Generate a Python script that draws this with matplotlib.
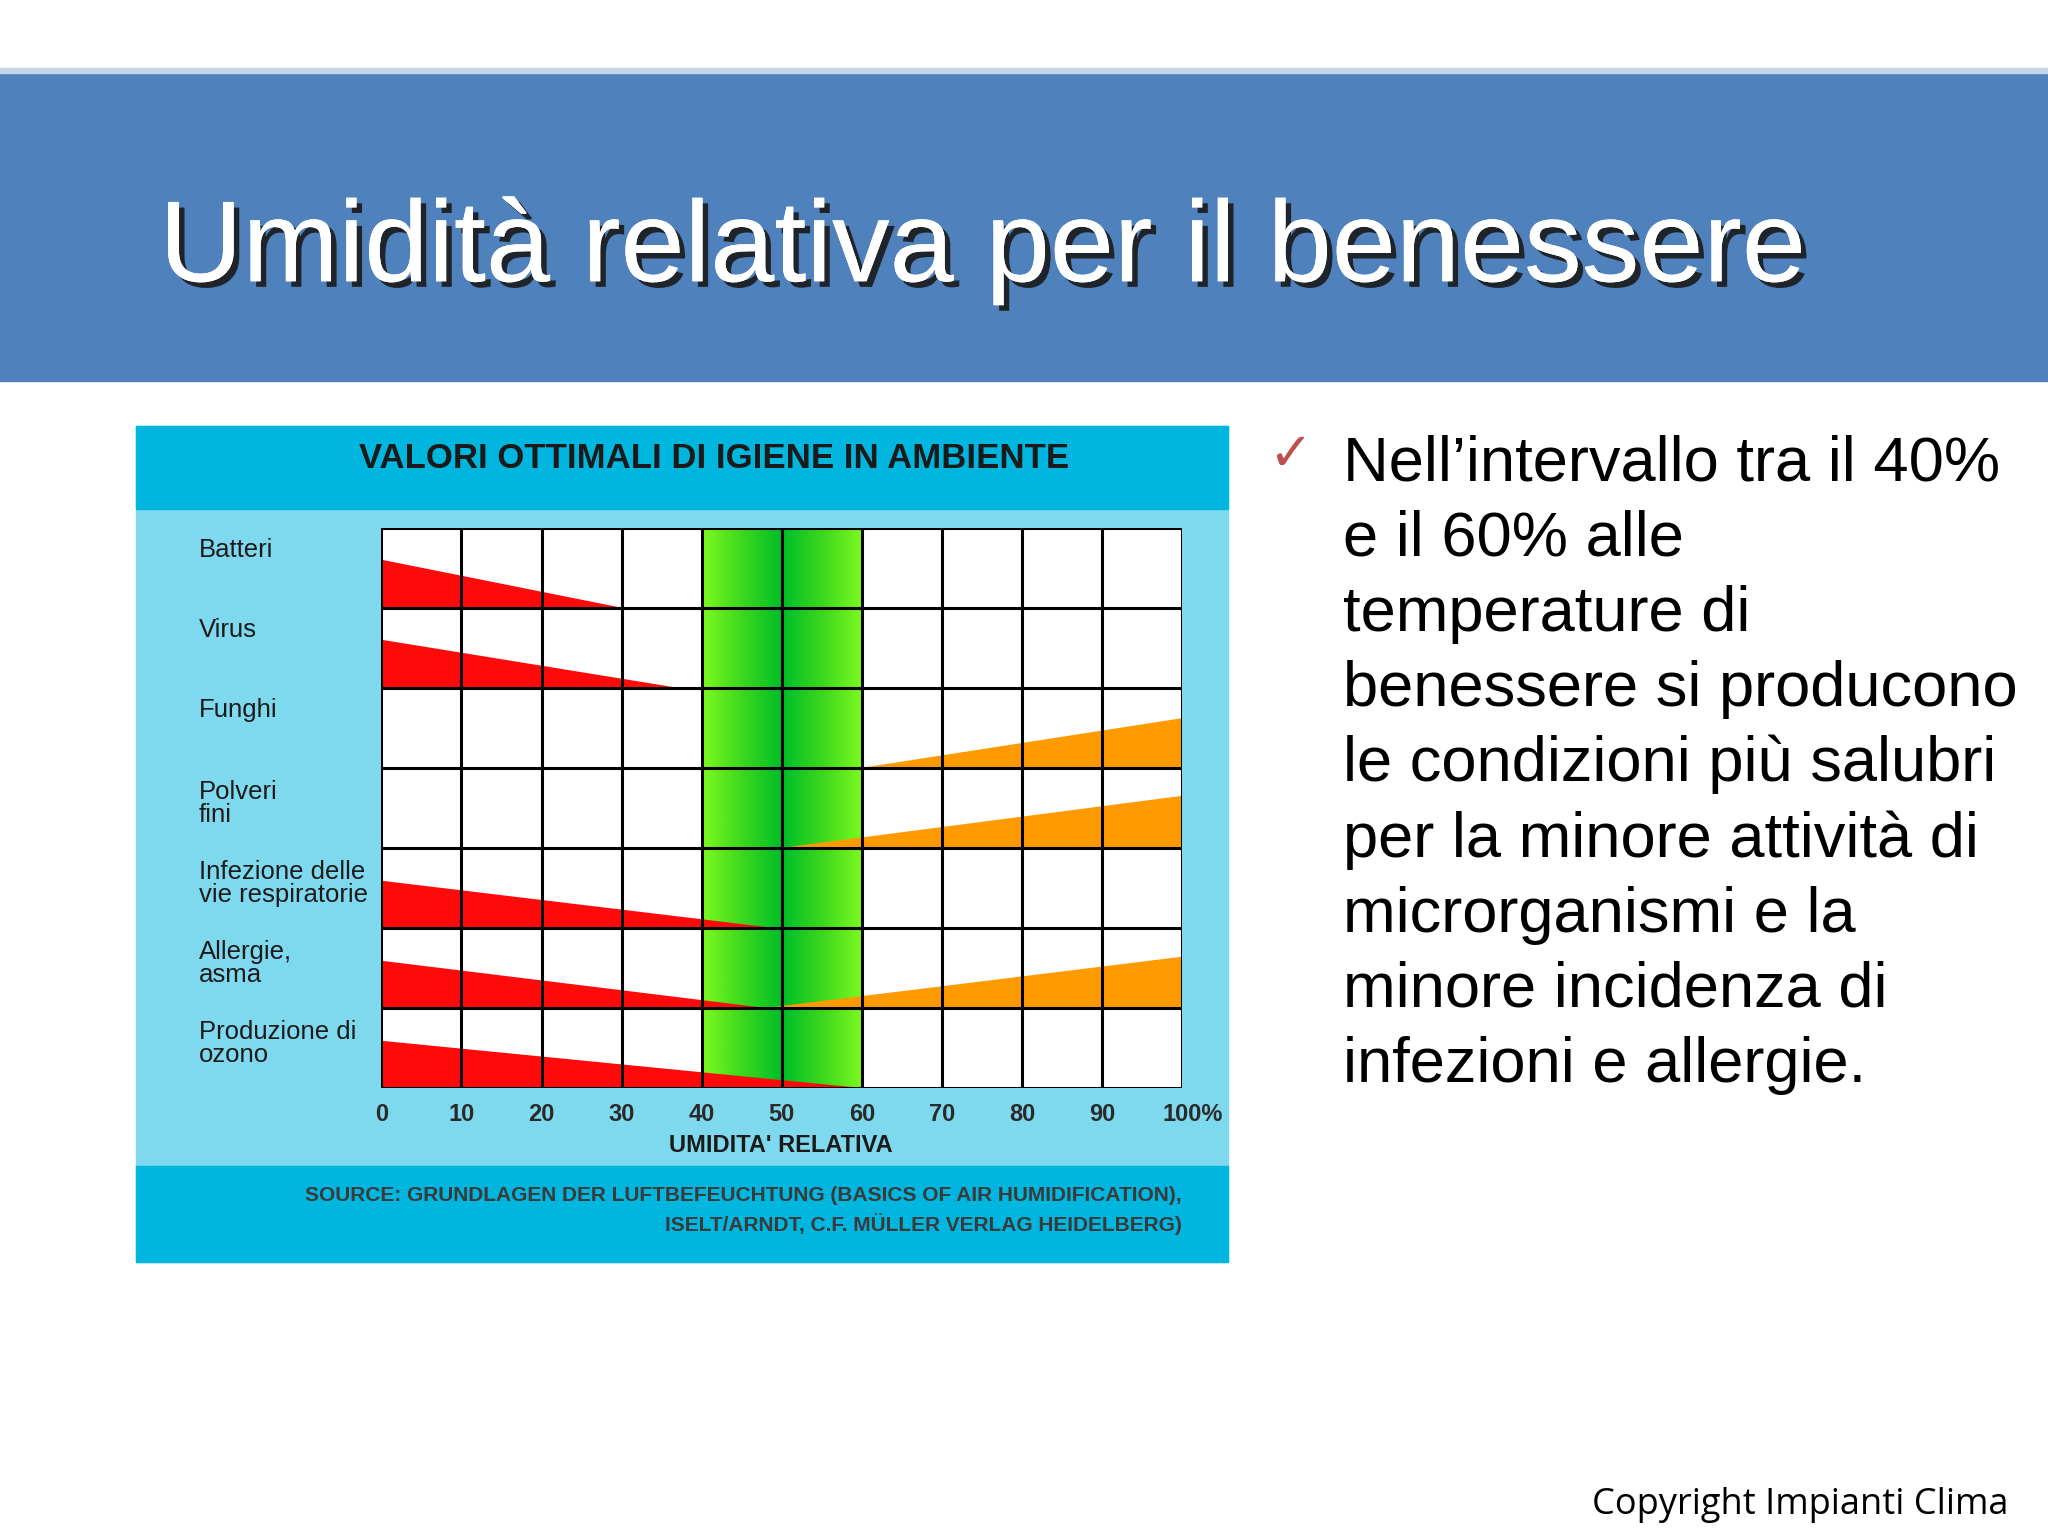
import numpy as np
import matplotlib.pyplot as plt
import matplotlib.patheffects as pe
from matplotlib.patches import Rectangle, Polygon

plt.rcParams['font.family'] = ['Liberation Sans', 'DejaVu Sans']

# data
rows = ['Batteri', 'Virus', 'Funghi', 'Polveri\nfini', 'Infezione delle\nvie respiratorie',
        'Allergie,\nasma', 'Produzione di\nozono']
# red wedge: (height at 0%, humidity where it ends)
red_start_h = [0.60, 0.60, 0, 0, 0.59, 0.59, 0.59]
red_end = [30, 37, 0, 0, 49, 48, 60]
# orange wedge: (humidity where it starts, height at 100%)
orange_start = [0, 0, 60, 50, 0, 48, 0]
orange_end_h = [0, 0, 0.62, 0.65, 0, 0.64, 0]
ticks = [0, 10, 20, 30, 40, 50, 60, 70, 80, 90, 100]
tick_labels = ['0', '10', '20', '30', '40', '50', '60', '70', '80', '90', '100%']
text_lines = ["Nell\u2019intervallo tra il 40%", "e il 60% alle", "temperature di",
              "benessere si producono", "le condizioni pi\u00f9 salubri",
              "per la minore attivit\u00e0 di", "microrganismi e la",
              "minore incidenza di", "infezioni e allergie."]

W, H = 1568, 1176
fig = plt.figure(figsize=(20.48, 15.36), dpi=100)
bg = fig.add_axes([0, 0, 1, 1])
bg.set_xlim(0, W)
bg.set_ylim(H, 0)
bg.axis('off')

# header
bg.add_patch(Rectangle((0, 55), W, 237, color='#4F81BD'))
bg.add_patch(Rectangle((0, 52), W, 4, color='#C8D4E6'))
bg.text(122, 192, 'Umidit\u00e0 relativa per il benessere', fontsize=83, color='white',
        va='center', ha='left',
        path_effects=[pe.withSimplePatchShadow(offset=(4, -4), shadow_rgbFace='#1a1a1a', alpha=0.9),
                      pe.Normal()])

# chart panel
bg.add_patch(Rectangle((104, 326), 836, 640, color='#7FD9EE'))
bg.add_patch(Rectangle((104, 326), 836, 64, color='#00B6DE'))
bg.add_patch(Rectangle((104, 893), 836, 73, color='#00B6DE'))
bg.text(547, 351, 'VALORI OTTIMALI DI IGIENE IN AMBIENTE', fontsize=25, fontweight='bold',
        color='#1a1a1a', ha='center', va='center')
bg.text(905, 915, 'SOURCE: GRUNDLAGEN DER LUFTBEFEUCHTUNG (BASICS OF AIR HUMIDIFICATION),',
        fontsize=15, fontweight='bold', color='#3a3a3a', ha='right', va='center')
bg.text(905, 937, 'ISELT/ARNDT, C.F. M\u00dcLLER VERLAG HEIDELBERG)',
        fontsize=15, fontweight='bold', color='#3a3a3a', ha='right', va='center')

row_top, row_h = 404, (833 - 404) / 7
for i, r in enumerate(rows):
    n = r.count('\n')
    y = row_top + row_h * i + 17 + n * 10
    bg.text(152, y, r, fontsize=18.5, color='#1a1a1a', ha='left', va='center', linespacing=0.95)

# grid axes
x0, x1, y0, y1 = 292, 905, 404, 833
ax = fig.add_axes([x0 / W, 1 - y1 / H, (x1 - x0) / W, (y1 - y0) / H])
ax.set_xlim(0, 100)
ax.set_ylim(7, 0)
ax.axis('off')
ax.add_patch(Rectangle((0, 0), 100, 7, color='white', zorder=0))

g = np.abs(np.linspace(-1, 1, 200))
ax.imshow(g[None, :], extent=(40, 60, 7, 0), aspect='auto', zorder=1,
          cmap=plt.matplotlib.colors.LinearSegmentedColormap.from_list(
              'g', ['#00BE28', '#3CD81E', '#7CFA1E']))

for i in range(7):
    bot = i + 1
    if red_end[i] > 0:
        ax.add_patch(Polygon([(0, bot), (0, bot - red_start_h[i]), (red_end[i], bot)],
                             color='#FF0A0A', zorder=2, lw=0))
    if orange_end_h[i] > 0:
        ax.add_patch(Polygon([(orange_start[i], bot), (100, bot - orange_end_h[i]), (100, bot)],
                             color='#FF9A00', zorder=2, lw=0))

for t in ticks:
    ax.plot([t, t], [0, 7], color='black', lw=2.2, zorder=3)
for k in range(8):
    ax.plot([0, 100], [k, k], color='black', lw=2.2, zorder=3)

for t, lab in zip(ticks, tick_labels):
    bg.text(x0 + (x1 - x0) * t / 100 + (8 if lab.endswith('%') else 0), 853, lab,
            fontsize=17, fontweight='bold', color='#2a2a2a', ha='center', va='center')
bg.text(598, 877, "UMIDITA' RELATIVA", fontsize=17, fontweight='bold', color='#1a1a1a',
        ha='center', va='center')

# right text
bg.text(988, 348, '\u2713', fontsize=38, color='#C0504D', ha='center', va='center',
        family='DejaVu Sans')
for k, line in enumerate(text_lines):
    bg.text(1028, 355 + 57.6 * k, line, fontsize=45.5, color='black', ha='left', va='center')

bg.text(1538, 1152, 'Copyright Impianti Clima', fontsize=26, color='black', ha='right',
        va='center', family=['Open Sans', 'DejaVu Sans'])

fig.savefig('out.png', dpi=100)
